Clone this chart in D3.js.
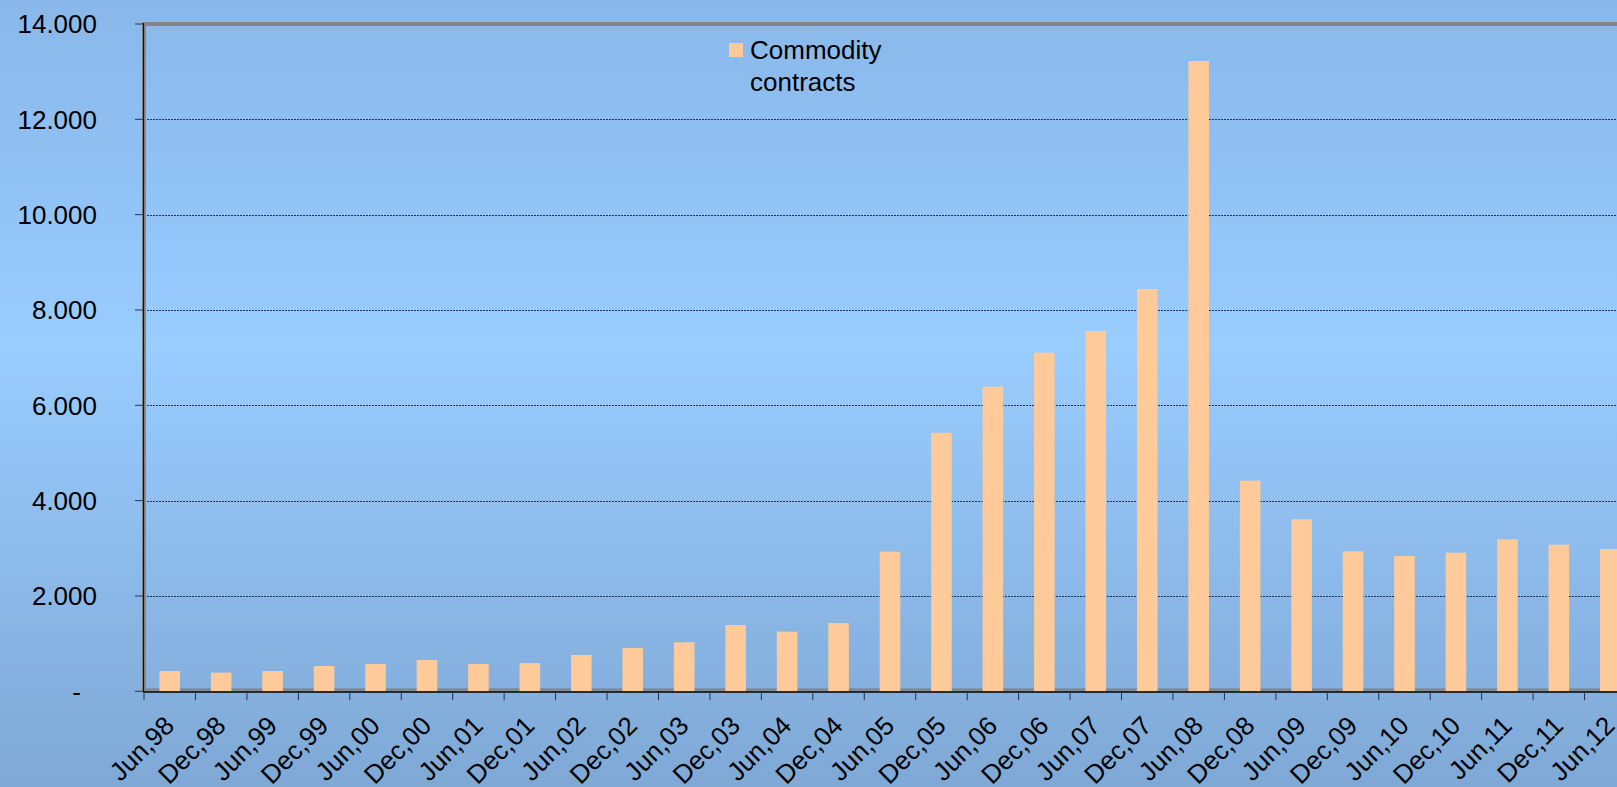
<!DOCTYPE html>
<html>
<head>
<meta charset="utf-8">
<script src="https://cdn.jsdelivr.net/npm/d3@7"></script>
<style>
  html, body { margin: 0; padding: 0; overflow: hidden; }
  svg { display: block; font-family: "Liberation Sans", Arial, sans-serif; }
</style>
</head>
<body>
<svg id="chart" width="1617" height="787"></svg>
<script>
// Half-yearly periods, June 1998 to June 2012
const categories = [
  "Jun,98", "Dec,98", "Jun,99", "Dec,99", "Jun,00", "Dec,00", "Jun,01", "Dec,01",
  "Jun,02", "Dec,02", "Jun,03", "Dec,03", "Jun,04", "Dec,04", "Jun,05", "Dec,05",
  "Jun,06", "Dec,06", "Jun,07", "Dec,07", "Jun,08", "Dec,08", "Jun,09", "Dec,09",
  "Jun,10", "Dec,10", "Jun,11", "Dec,11", "Jun,12"
];

// Commodity contracts, notional amounts outstanding
const commodityContracts = [
  426, 392, 426, 531, 573, 657, 573, 592,
  762, 909, 1028, 1391, 1251, 1433, 2930, 5425,
  6391, 7105, 7560, 8441, 13225, 4419, 3609, 2937,
  2839, 2908, 3189, 3076, 2986
];

const yTicks = [0, 2000, 4000, 6000, 8000, 10000, 12000, 14000];
const seriesName = ["Commodity", "contracts"];

const svg = d3.select("#chart");
const W = 1617, H = 787;
const plot = { left: 144, right: 1636, top: 24, bottom: 691.3 };

// Background gradient
const defs = svg.append("defs");
const grad = defs.append("linearGradient")
  .attr("id", "bg").attr("x1", 0).attr("y1", 0).attr("x2", 0).attr("y2", 1);
grad.append("stop").attr("offset", "0").attr("stop-color", "#89b7e9");
grad.append("stop").attr("offset", "0.44").attr("stop-color", "#99ccff");
grad.append("stop").attr("offset", "1").attr("stop-color", "#7fa8d5");
svg.append("rect").attr("width", W).attr("height", H).attr("fill", "url(#bg)");

const x = d3.scaleBand().domain(categories).range([plot.left, plot.right]).padding(0);
const y = d3.scaleLinear().domain([0, 14000]).range([plot.bottom, plot.top]);

// Horizontal gridlines
svg.append("g").selectAll("line")
  .data(yTicks.filter(d => d > 0 && d < 14000))
  .join("line")
  .attr("x1", plot.left).attr("x2", W)
  .attr("y1", d => Math.round(y(d)) + 0.5).attr("y2", d => Math.round(y(d)) + 0.5)
  .attr("stroke", "#24344c").attr("stroke-width", 1)
  .attr("stroke-dasharray", "2 1");

// Plot frame: top border and floor shadow
svg.append("line")
  .attr("x1", plot.left - 2).attr("x2", W)
  .attr("y1", plot.top).attr("y2", plot.top)
  .attr("stroke", "#858585").attr("stroke-width", 4);
svg.append("rect")
  .attr("x", plot.left).attr("y", plot.bottom - 3)
  .attr("width", W - plot.left).attr("height", 3)
  .attr("fill", "#7f8a99");

// Bars
const barW = x.bandwidth() * 0.4;
svg.append("g").selectAll("rect")
  .data(commodityContracts)
  .join("rect")
  .attr("x", (d, i) => x(categories[i]) + (x.bandwidth() - barW) / 2)
  .attr("y", d => y(d))
  .attr("width", barW)
  .attr("height", d => plot.bottom - y(d))
  .attr("fill", "#ffca99");

// Left axis
svg.append("line")
  .attr("x1", plot.left).attr("x2", plot.left)
  .attr("y1", plot.top - 2).attr("y2", plot.bottom)
  .attr("stroke", "#8a8a8a").attr("stroke-width", 4);
svg.append("line")
  .attr("x1", plot.left - 0.5).attr("x2", plot.left - 0.5)
  .attr("y1", plot.top - 1).attr("y2", plot.bottom)
  .attr("stroke", "#111").attr("stroke-width", 1.2);

// Y ticks and labels
const yAxis = svg.append("g");
yAxis.selectAll("line")
  .data(yTicks)
  .join("line")
  .attr("x1", plot.left - 9).attr("x2", plot.left - 1)
  .attr("y1", d => y(d)).attr("y2", d => y(d))
  .attr("stroke", "#334").attr("stroke-width", 1);
yAxis.selectAll("text")
  .data(yTicks)
  .join("text")
  .attr("x", d => d === 0 ? 81 : 97)
  .attr("y", d => y(d))
  .attr("dy", "0.36em")
  .attr("text-anchor", "end")
  .attr("font-size", 26)
  .attr("fill", "#000")
  .text(d => d === 0 ? "-" : d3.format(",")(d).replace(/,/g, "."));

// X axis line and ticks at category boundaries
svg.append("line")
  .attr("x1", plot.left - 1).attr("x2", W)
  .attr("y1", plot.bottom + 0.7).attr("y2", plot.bottom + 0.7)
  .attr("stroke", "#000").attr("stroke-width", 1.6);
svg.append("g").selectAll("line")
  .data(categories)
  .join("line")
  .attr("x1", d => x(d)).attr("x2", d => x(d))
  .attr("y1", plot.bottom + 1).attr("y2", plot.bottom + 9)
  .attr("stroke", "#2a3344").attr("stroke-width", 1);

// Rotated category labels
svg.append("g").selectAll("text")
  .data(categories)
  .join("text")
  .attr("text-anchor", "end")
  .attr("font-size", 26)
  .attr("fill", "#000")
  .attr("transform", d => `translate(${x(d) + x.bandwidth() / 2 + 6},${plot.bottom + 36}) rotate(-45)`)
  .text(d => d);

// Legend
const legend = svg.append("g");
legend.append("rect")
  .attr("x", 729).attr("y", 43).attr("width", 14).attr("height", 14)
  .attr("fill", "#ffca99");
legend.selectAll("text")
  .data(seriesName)
  .join("text")
  .attr("x", 750)
  .attr("y", (d, i) => 58.5 + i * 32)
  .attr("font-size", 26)
  .attr("fill", "#000")
  .text(d => d);
</script>
</body>
</html>
